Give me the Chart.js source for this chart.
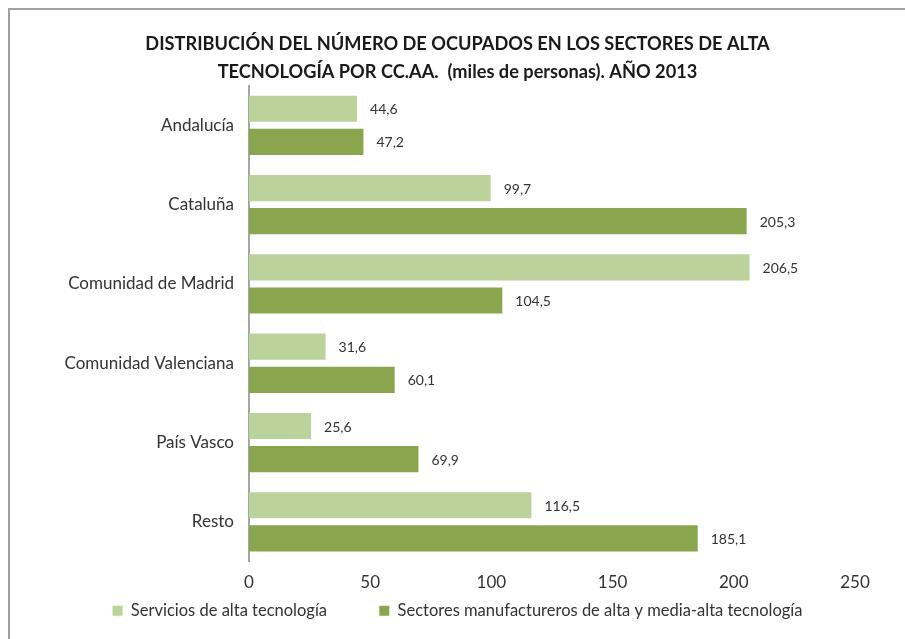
<!DOCTYPE html>
<html>
<head>
<meta charset="utf-8">
<script src="https://cdn.jsdelivr.net/npm/chart.js@4"></script>
<style>
    html, body { margin: 0; padding: 0; background: #fff; }
    .frame {
        position: absolute;
        left: 8px;
        top: 8px;
        width: 897px;
        height: 631px;
        border-top: 2px solid #a0a0a0;
        border-left: 2px solid #a0a0a0;
    }
    .wrap { position: absolute; left: 0; top: 0; width: 905px; height: 639px; }
</style>
</head>
<body>
<div class="frame"></div>
<div class="wrap"><canvas id="chart" width="905" height="639"></canvas></div>
<script>
// Data
const regions = ['Andalucía', 'Cataluña', 'Comunidad de Madrid', 'Comunidad Valenciana', 'País Vasco', 'Resto'];
const servicios = [44.6, 99.7, 206.5, 31.6, 25.6, 116.5];
const manufactureros = [47.2, 205.3, 104.5, 60.1, 69.9, 185.1];
const xTicks = [0, 50, 100, 150, 200, 250];

const FONT = 'Lato, "Noto Sans", sans-serif';

// Draw the value next to the end of each bar
const barLabels = {
    id: 'barLabels',
    afterDatasetsDraw(chart) {
        const ctx = chart.ctx;
        ctx.save();
        ctx.font = '14px ' + FONT;
        ctx.fillStyle = '#333';
        ctx.textBaseline = 'middle';
        ctx.textAlign = 'left';
        chart.data.datasets.forEach(function(ds, i) {
            chart.getDatasetMeta(i).data.forEach(function(bar, j) {
                const txt = ds.data[j].toFixed(1).replace('.', ',');
                ctx.fillText(txt, bar.x + 13, bar.y + 1);
            });
        });
        ctx.restore();
    }
};

new Chart(document.getElementById('chart'), {
    type: 'bar',
    data: {
        labels: regions,
        datasets: [{
            label: 'Servicios de alta tecnología',
            data: servicios,
            backgroundColor: '#bbd39a',
            categoryPercentage: 0.835,
            barPercentage: 0.79
        }, {
            label: 'Sectores manufactureros de alta y media-alta tecnología',
            data: manufactureros,
            backgroundColor: '#89a54e',
            categoryPercentage: 0.835,
            barPercentage: 0.79
        }]
    },
    options: {
        indexAxis: 'y',
        responsive: false,
        animation: false,
        layout: {
            padding: { top: 30, right: 50, bottom: 10, left: 60 }
        },
        plugins: {
            title: {
                display: true,
                text: ['DISTRIBUCIÓN DEL NÚMERO DE OCUPADOS EN LOS SECTORES DE ALTA',
                       'TECNOLOGÍA POR CC.AA.  (miles de personas). AÑO 2013'],
                color: '#1a1a1a',
                font: { family: FONT, size: 18.2, weight: 'bold', lineHeight: 1.53 },
                padding: { top: 0, bottom: 0 }
            },
            legend: {
                position: 'bottom',
                labels: {
                    color: '#333',
                    font: { family: FONT, size: 16.5 },
                    boxWidth: 10,
                    boxHeight: 10,
                    padding: 10,
                    generateLabels: function(chart) {
                        const items = Chart.defaults.plugins.legend.labels.generateLabels(chart);
                        // wider gap after the first item
                        items[0].text = items[0].text + '          ';
                        return items;
                    }
                }
            },
            tooltip: { enabled: false }
        },
        scales: {
            x: {
                min: 0,
                max: 250,
                afterBuildTicks: function(scale) {
                    scale.ticks = xTicks.map(function(v) { return { value: v }; });
                },
                afterFit: function(scale) { scale.height = 31; },
                grid: { display: false, drawTicks: false },
                border: { display: false },
                ticks: {
                    color: '#333',
                    font: { family: FONT, size: 17 },
                    padding: 11
                }
            },
            y: {
                afterFit: function(scale) { scale.width = 189; },
                grid: { display: false, drawTicks: false },
                border: { display: true, color: '#a6a6a6', width: 2 },
                ticks: {
                    color: '#333',
                    font: { family: FONT, size: 17 },
                    padding: 15
                }
            }
        }
    },
    plugins: [barLabels]
});
</script>
</body>
</html>
